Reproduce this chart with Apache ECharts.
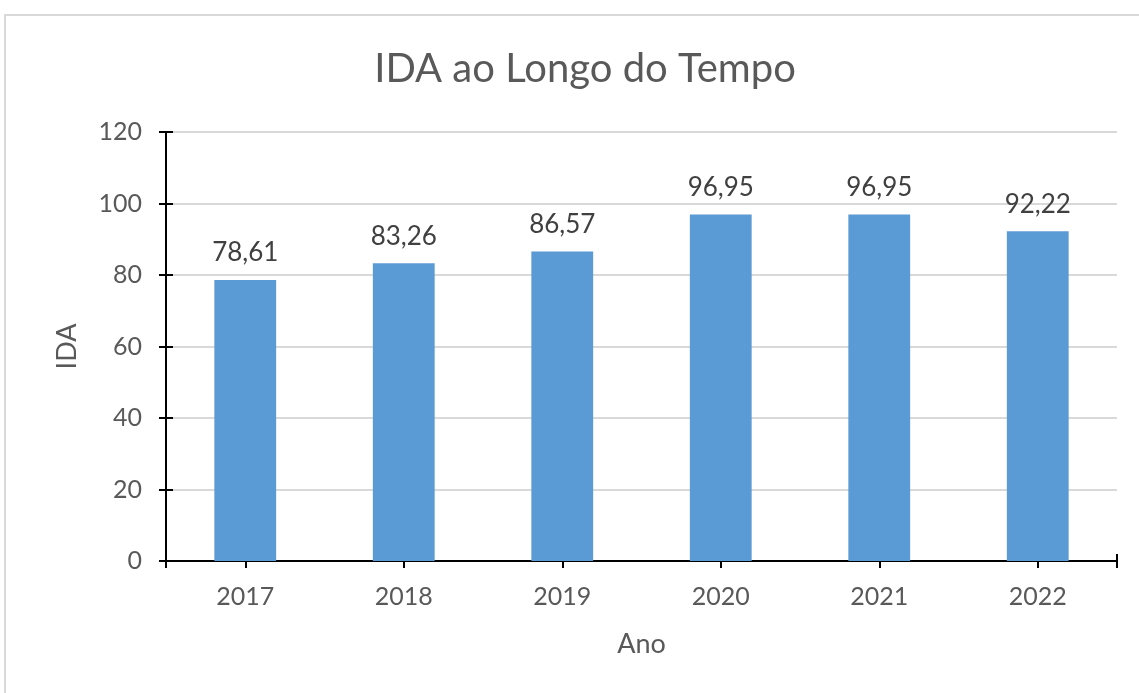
<!DOCTYPE html>
<html>
<head>
<meta charset="utf-8">
<script src="https://cdn.jsdelivr.net/npm/echarts@6/dist/echarts.min.js"></script>
<style>
html,body{margin:0;padding:0;background:#fff;}
#frame{position:absolute;left:4px;top:14px;width:1200px;height:800px;border:2px solid #d9d9d9;box-sizing:border-box;}
#chart{position:absolute;left:0;top:0;width:1139px;height:693px;}
</style>
</head>
<body>
<div id="frame"></div>
<div id="chart"></div>
<script>
const categories = ['2017','2018','2019','2020','2021','2022'];
const idaValues = [78.61, 83.26, 86.57, 96.95, 96.95, 92.22];
const yTicks = [0, 20, 40, 60, 80, 100, 120];

const FONT = 'Lato';
const chart = echarts.init(document.getElementById('chart'));
const tickStyle = {color:'#000', width:2};
chart.setOption({
  animation:false,
  textStyle:{fontFamily:FONT},
  title:{text:'IDA ao Longo do Tempo', left:580, top:44, textAlign:'center',
    textStyle:{fontFamily:FONT, fontSize:40, fontWeight:'normal', color:'#595959'}},
  grid:{left:166, right:22, top:132, bottom:132, containLabel:false},
  xAxis:[{
    type:'category', data:categories, position:'bottom',
    name:'Ano', nameLocation:'middle', nameGap:70,
    nameTextStyle:{fontFamily:FONT, fontSize:27, color:'#595959'},
    axisLine:{lineStyle:{color:'#000', width:2}},
    axisTick:{show:true, alignWithLabel:true, length:7, lineStyle:tickStyle},
    axisLabel:{fontFamily:FONT, fontSize:25, color:'#595959', margin:23}
  },{
    type:'category', data:categories, position:'bottom', gridIndex:0,
    axisLine:{show:false},
    axisTick:{show:true, inside:true, alignWithLabel:true, length:7, lineStyle:tickStyle},
    axisLabel:{show:false}
  },{
    type:'value', min:0, max:1, interval:1, position:'bottom',
    axisLine:{show:false}, splitLine:{show:false},
    axisTick:{show:true, length:7, lineStyle:tickStyle},
    axisLabel:{show:false}
  },{
    type:'value', min:0, max:1, interval:1, position:'bottom',
    axisLine:{show:false}, splitLine:{show:false},
    axisTick:{show:true, inside:true, length:7, lineStyle:tickStyle},
    axisLabel:{show:false}
  }],
  yAxis:[{
    type:'value', min:yTicks[0], max:yTicks[yTicks.length-1], interval:20,
    name:'IDA', nameLocation:'middle', nameGap:85, nameRotate:90,
    nameTextStyle:{fontFamily:FONT, fontSize:27, color:'#595959'},
    axisLine:{show:true, lineStyle:{color:'#000', width:2}},
    axisTick:{show:true, length:7, lineStyle:tickStyle},
    axisLabel:{fontFamily:FONT, fontSize:25, color:'#595959', margin:24},
    splitLine:{show:true, lineStyle:{color:'#d9d9d9', width:2}}
  },{
    type:'value', min:yTicks[0], max:yTicks[yTicks.length-1], interval:20, position:'left',
    axisLine:{show:false}, splitLine:{show:false},
    axisTick:{show:true, inside:true, length:7, lineStyle:tickStyle},
    axisLabel:{show:false}
  }],
  series:[{
    type:'bar', data:idaValues, barWidth:'39%',
    itemStyle:{color:'#5B9BD5'},
    label:{show:true, position:'top', distance:14, fontFamily:FONT, fontSize:26, color:'#404040',
      formatter:p=>p.value.toFixed(2).replace('.', ',')}
  }]
});
</script>
</body>
</html>
